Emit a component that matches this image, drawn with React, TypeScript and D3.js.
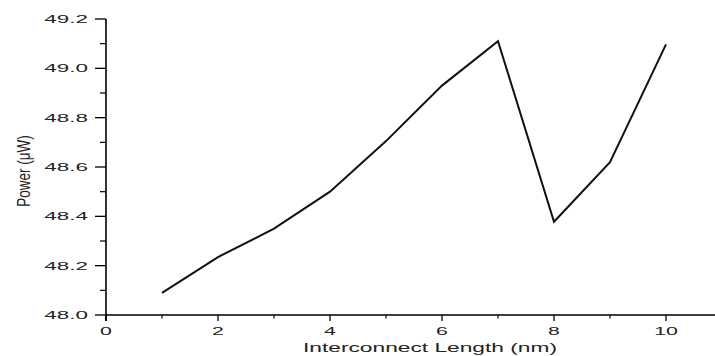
import React from "react";
import * as d3 from "d3";

// values
const lengths = [1, 2, 3, 4, 5, 6, 7, 8, 9, 10];
const power = [48.09, 48.235, 48.35, 48.5, 48.705, 48.93, 49.11, 48.378, 48.62, 49.097];
const xTicks = [0, 2, 4, 6, 8, 10];
const xMinor = [1, 3, 5, 7, 9, 11];
const yTicks = [48.0, 48.2, 48.4, 48.6, 48.8, 49.0, 49.2];
const yMinor = [48.1, 48.3, 48.5, 48.7, 48.9, 49.1];

const W = 715;
const H = 356;

const App = () => {
  const x = d3.scaleLinear().domain([0, 10]).range([106, 666]);
  const y = d3.scaleLinear().domain([48, 49.2]).range([315, 19]);

  const line = d3
    .line<number>()
    .x((d, i) => x(lengths[i]))
    .y((d) => y(d));

  const font = "'Liberation Sans', Arial, sans-serif";

  return (
    <svg
      width={W}
      height={H}
      style={{ position: "absolute", left: 0, top: 0, background: "#fff" }}
    >
      {/* axes */}
      <line x1={x(0)} x2={W + 2} y1={y(48)} y2={y(48)} stroke="#000" strokeWidth={1.6} />
      <line x1={x(0)} x2={x(0)} y1={y(48) + 6} y2={y(49.2)} stroke="#000" strokeWidth={1.6} />

      {/* y ticks */}
      {yTicks.map((t) => (
        <g key={"yt" + t}>
          <line x1={x(0) - 11} x2={x(0)} y1={y(t)} y2={y(t)} stroke="#000" strokeWidth={1.3} />
          <text
            transform={`translate(${x(0) - 18},${y(t) + 4}) scale(1.95,1)`}
            textAnchor="end"
            fontFamily={font}
            fontSize={11.5}
            fill="#222"
          >
            {t.toFixed(1)}
          </text>
        </g>
      ))}
      {yMinor.map((t) => (
        <line key={"ym" + t} x1={x(0) - 6} x2={x(0)} y1={y(t)} y2={y(t)} stroke="#000" strokeWidth={1.2} />
      ))}

      {/* x ticks */}
      {xTicks.map((t) => (
        <g key={"xt" + t}>
          <line x1={x(t)} x2={x(t)} y1={y(48)} y2={y(48) + 6} stroke="#000" strokeWidth={1.3} />
          <text
            transform={`translate(${x(t)},${y(48) + 20}) scale(1.85,1)`}
            textAnchor="middle"
            fontFamily={font}
            fontSize={11.5}
            fill="#222"
          >
            {t}
          </text>
        </g>
      ))}
      {xMinor.map((t) => (
        <line key={"xm" + t} x1={x(t)} x2={x(t)} y1={y(48)} y2={y(48) + 3.5} stroke="#000" strokeWidth={1.2} />
      ))}

      {/* axis titles */}
      <text
        transform={`translate(430,351.5) scale(1.75,1)`}
        textAnchor="middle"
        fontFamily={font}
        fontSize={13}
        fill="#222"
      >
        Interconnect Length (nm)
      </text>
      <text
        transform={`translate(30,171) scale(1.3,1) rotate(-90)`}
        textAnchor="middle"
        fontFamily={font}
        fontSize={13.5}
        fill="#222"
      >
        Power (μW)
      </text>

      {/* data line */}
      <path d={line(power) || ""} fill="none" stroke="#111" strokeWidth={2} strokeLinejoin="miter" />
    </svg>
  );
};

export default App;
